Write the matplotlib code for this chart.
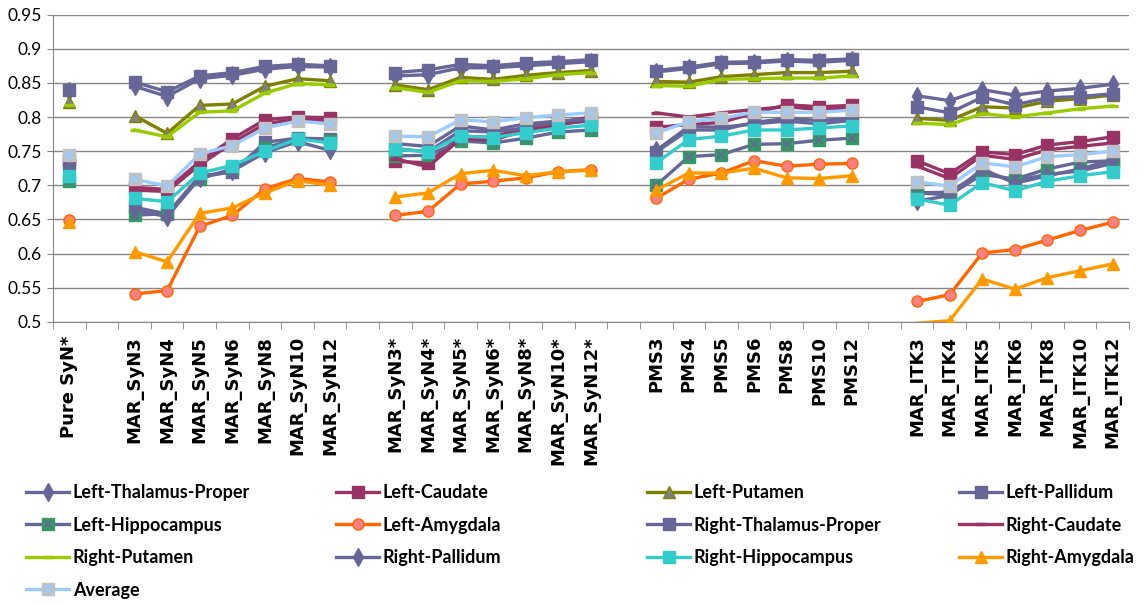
# Dice overlap per structure for the registration variants - line chart
import numpy as np
import matplotlib
matplotlib.use("Agg")
import matplotlib.pyplot as plt
from matplotlib.ticker import FixedLocator

# ------------------ DATA ------------------
categories = ["Pure SyN*", "",
              "MAR_SyN3", "MAR_SyN4", "MAR_SyN5", "MAR_SyN6", "MAR_SyN8", "MAR_SyN10", "MAR_SyN12", "",
              "MAR_SyN3*", "MAR_SyN4*", "MAR_SyN5*", "MAR_SyN6*", "MAR_SyN8*", "MAR_SyN10*", "MAR_SyN12*", "",
              "PMS3", "PMS4", "PMS5", "PMS6", "PMS8", "PMS10", "PMS12", "",
              "MAR_ITK3", "MAR_ITK4", "MAR_ITK5", "MAR_ITK6", "MAR_ITK8", "MAR_ITK10", "MAR_ITK12"]

# values in order: Pure SyN*, MAR_SyN x7, MAR_SyN* x7, PMS x7, MAR_ITK x7
left_thalamus = [0.838,
                 0.845, 0.830, 0.856, 0.861, 0.870, 0.874, 0.873,
                 0.860, 0.862, 0.872, 0.872, 0.875, 0.878, 0.881,
                 0.866, 0.871, 0.878, 0.879, 0.882, 0.880, 0.883,
                 0.831, 0.824, 0.840, 0.832, 0.838, 0.842, 0.848]
left_caudate = [0.737,
                0.697, 0.694, 0.735, 0.768, 0.796, 0.800, 0.799,
                0.735, 0.733, 0.772, 0.770, 0.786, 0.792, 0.800,
                0.785, 0.789, 0.792, 0.806, 0.818, 0.815, 0.817,
                0.736, 0.717, 0.749, 0.745, 0.759, 0.764, 0.771]
left_putamen = [0.822,
                0.802, 0.776, 0.817, 0.819, 0.845, 0.856, 0.853,
                0.847, 0.840, 0.858, 0.855, 0.861, 0.865, 0.868,
                0.852, 0.851, 0.859, 0.862, 0.865, 0.865, 0.867,
                0.798, 0.795, 0.815, 0.813, 0.823, 0.827, 0.832]
left_pallidum = [0.731,
                 0.668, 0.658, 0.714, 0.719, 0.763, 0.769, 0.768,
                 0.754, 0.749, 0.780, 0.778, 0.784, 0.790, 0.794,
                 0.749, 0.781, 0.781, 0.792, 0.798, 0.795, 0.798,
                 0.689, 0.690, 0.720, 0.707, 0.716, 0.721, 0.732]
left_hippocampus = [0.706,
                    0.656, 0.659, 0.710, 0.724, 0.755, 0.768, 0.765,
                    0.743, 0.744, 0.765, 0.762, 0.769, 0.778, 0.781,
                    0.700, 0.742, 0.745, 0.760, 0.761, 0.766, 0.769,
                    0.689, 0.686, 0.716, 0.709, 0.724, 0.734, 0.736]
left_amygdala = [0.650,
                 0.541, 0.546, 0.640, 0.656, 0.695, 0.710, 0.705,
                 0.656, 0.662, 0.702, 0.706, 0.711, 0.720, 0.723,
                 0.681, 0.709, 0.718, 0.736, 0.728, 0.731, 0.732,
                 0.530, 0.540, 0.601, 0.606, 0.620, 0.634, 0.646]
right_thalamus = [0.840,
                  0.851, 0.837, 0.860, 0.865, 0.874, 0.877, 0.875,
                  0.865, 0.869, 0.877, 0.875, 0.879, 0.881, 0.884,
                  0.868, 0.873, 0.880, 0.881, 0.884, 0.883, 0.885,
                  0.815, 0.806, 0.829, 0.818, 0.828, 0.830, 0.834]
right_caudate = [0.734,
                 0.693, 0.691, 0.730, 0.762, 0.790, 0.797, 0.794,
                 0.739, 0.727, 0.768, 0.766, 0.781, 0.788, 0.797,
                 0.806, 0.800, 0.806, 0.811, 0.815, 0.811, 0.813,
                 0.728, 0.710, 0.744, 0.738, 0.752, 0.757, 0.762]
right_putamen = [0.818,
                 0.781, 0.771, 0.807, 0.809, 0.835, 0.849, 0.847,
                 0.843, 0.836, 0.853, 0.852, 0.856, 0.862, 0.865,
                 0.846, 0.845, 0.855, 0.856, 0.857, 0.857, 0.860,
                 0.791, 0.789, 0.805, 0.800, 0.806, 0.812, 0.816]
right_pallidum = [0.728,
                  0.664, 0.654, 0.711, 0.721, 0.748, 0.764, 0.751,
                  0.761, 0.757, 0.787, 0.781, 0.790, 0.794, 0.797,
                  0.751, 0.786, 0.785, 0.790, 0.794, 0.790, 0.795,
                  0.677, 0.685, 0.724, 0.703, 0.714, 0.724, 0.737]
right_hippocampus = [0.713,
                     0.681, 0.676, 0.718, 0.729, 0.750, 0.768, 0.762,
                     0.753, 0.749, 0.772, 0.770, 0.777, 0.784, 0.788,
                     0.733, 0.767, 0.772, 0.781, 0.781, 0.784, 0.787,
                     0.680, 0.671, 0.704, 0.692, 0.706, 0.714, 0.720]
right_amygdala = [0.646,
                  0.603, 0.588, 0.659, 0.667, 0.689, 0.707, 0.700,
                  0.683, 0.689, 0.717, 0.722, 0.714, 0.720, 0.722,
                  0.693, 0.718, 0.718, 0.725, 0.711, 0.710, 0.714,
                  0.498, 0.502, 0.563, 0.548, 0.565, 0.575, 0.585]
average = [0.745,
           0.709, 0.699, 0.746, 0.758, 0.784, 0.794, 0.790,
           0.772, 0.771, 0.796, 0.793, 0.799, 0.803, 0.806,
           0.777, 0.793, 0.798, 0.807, 0.807, 0.807, 0.810,
           0.705, 0.699, 0.733, 0.727, 0.742, 0.745, 0.750]

# name, values, line colour, marker, marker face, marker edge, marker size
series = [
    ("Left-Thalamus-Proper", left_thalamus, "#666699", "d", "#666699", "#666699", 9),
    ("Left-Caudate", left_caudate, "#993366", "s", "#993366", "#993366", 8),
    ("Left-Putamen", left_putamen, "#808000", "^", "#808080", "#808000", 8),
    ("Left-Pallidum", left_pallidum, "#666699", "s", "#666699", "#666699", 8),
    ("Left-Hippocampus", left_hippocampus, "#666699", "s", "#339966", "#339966", 8),
    ("Left-Amygdala", left_amygdala, "#FF6600", "o", "#FF8080", "#FF6600", 8),
    ("Right-Thalamus-Proper", right_thalamus, "#666699", "s", "#666699", "#666699", 8),
    ("Right-Caudate", right_caudate, "#993366", "_", "#993366", "#993366", 7),
    ("Right-Putamen", right_putamen, "#99CC00", "_", "#99CC00", "#99CC00", 7),
    ("Right-Pallidum", right_pallidum, "#666699", "d", "#666699", "#666699", 9),
    ("Right-Hippocampus", right_hippocampus, "#33CCCC", "s", "#33CCCC", "#33CCCC", 8),
    ("Right-Amygdala", right_amygdala, "#FF9900", "^", "#FF9900", "#FF9900", 8),
    ("Average", average, "#99CCFF", "s", "#C0C0C0", "#C0C0C0", 8),
]

# slots of the 33 categories that hold data (blank separators are skipped)
data_slots = [i for i, c in enumerate(categories) if c != ""]


def spread(vals):
    out = np.full(len(categories), np.nan)
    out[data_slots] = vals
    return out


# ------------------ PLOT ------------------
fig = plt.figure(figsize=(11.43, 6.05), dpi=100)
ax = fig.add_axes([53 / 1143, 1 - 322 / 605, (1129 - 53) / 1143, (322 - 14.5) / 605])

x = np.arange(len(categories))
handles = []
for name, vals, col, mk, mfc, mec, ms in series:
    y = spread(vals)
    # markers under the axis floor are not drawn (as in the spreadsheet chart)
    shown = [i for i in range(len(y)) if not np.isnan(y[i]) and y[i] >= 0.5]
    ln, = ax.plot(x, y, color=col, lw=2.4, marker=mk, markersize=ms,
                  markerfacecolor=mfc, markeredgecolor=mec, markevery=shown,
                  markeredgewidth=2.5 if mk == "_" else 1.0, zorder=3)
    h = ln
    if name == "Left-Hippocampus":
        xm, = ax.plot(x, y, ls="none", marker="x", markersize=6, color="#666699",
                      markeredgewidth=1.2, zorder=3)
        h = (ln, xm)
    if name == "Average":
        xm, = ax.plot(x, y, ls="none", marker="x", markersize=6, color="#99CCFF",
                      markeredgewidth=1.6, zorder=3)
        h = (ln, xm)
    handles.append((h, name))

ax.set_xlim(-0.5, len(categories) - 0.5)
ax.set_ylim(0.5, 0.95)
ax.set_yticks(np.arange(0.5, 0.951, 0.05))
ax.set_yticklabels(["0.5", "0.55", "0.6", "0.65", "0.7", "0.75", "0.8", "0.85", "0.9", "0.95"],
                   fontsize=12.5, family="Lato")
ax.grid(axis="y", color="#868686", lw=1.0, zorder=0)
ax.tick_params(axis="y", length=4, color="#868686", pad=4)

ax.set_xticks(x)
ax.set_xticklabels(categories, rotation=90, fontsize=13, fontweight="bold",
                   family="DejaVu Sans", va="top")
ax.tick_params(axis="x", length=0, pad=10)
ax.xaxis.set_minor_locator(FixedLocator(np.arange(-0.5, len(categories), 1.0)))
ax.tick_params(axis="x", which="minor", length=5, color="#868686")

for side in ["top", "right"]:
    ax.spines[side].set_visible(False)
ax.spines["left"].set_color("#868686")
ax.spines["bottom"].set_color("#868686")

# ------------------ LEGEND (4 columns below the plot) ------------------
col_x = [26, 336, 647, 959]
for c in range(4):
    sub = handles[c::4]
    fig.legend([h for h, _ in sub], [n for _, n in sub], loc="upper left",
               bbox_to_anchor=(col_x[c] / 1143, 1 - 484 / 605), frameon=False,
               borderaxespad=0, borderpad=0, handlelength=2.4, handletextpad=0.2,
               labelspacing=0.86, prop={"family": "Lato", "weight": "bold", "size": 13})

fig.savefig("out.png", dpi=100)
